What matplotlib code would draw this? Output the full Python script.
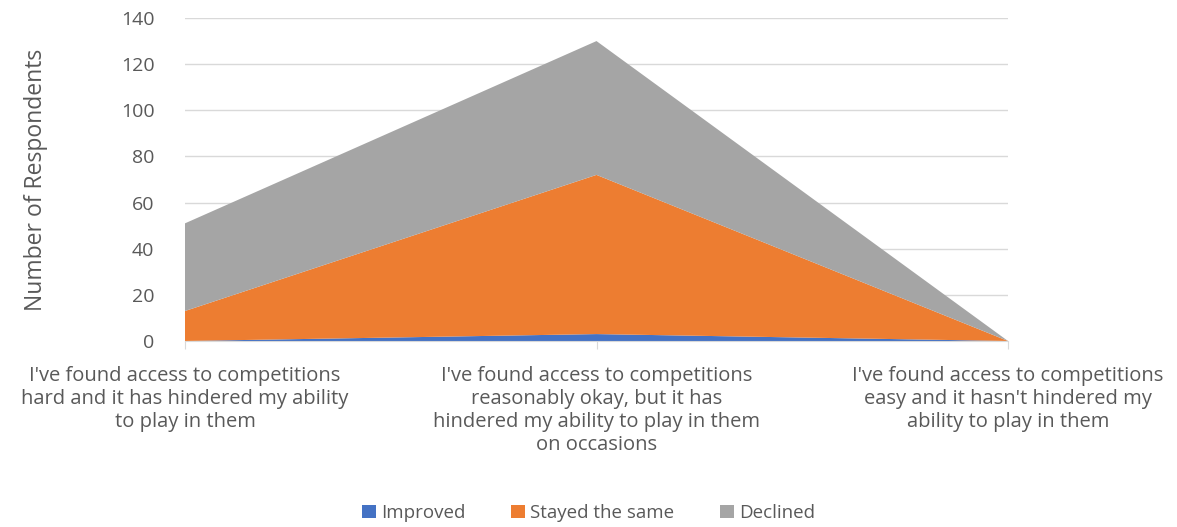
import numpy as np
import matplotlib.pyplot as plt

# survey data
categories = ["I've found access to competitions\nhard and it has hindered my ability\nto play in them",
              "I've found access to competitions\nreasonably okay, but it has\nhindered my ability to play in them\non occasions",
              "I've found access to competitions\neasy and it hasn't hindered my\nability to play in them"]
improved = [0, 3, 0]
stayed_same = [13, 69, 0]
declined = [38, 58, 0]

series_names = ["Improved", "Stayed the same", "Declined"]
colors = ["#4472C4", "#ED7D31", "#A5A5A5"]

plt.rcParams['font.family'] = ['Open Sans', 'DejaVu Sans']
txt = "#595959"

fig = plt.figure(figsize=(11.77, 5.27), dpi=100)
ax = fig.add_axes([185 / 1177, 1 - 341 / 527, (1008 - 185) / 1177, (341 - 18) / 527])

x = np.arange(len(categories))
ax.stackplot(x, improved, stayed_same, declined, colors=colors, labels=series_names, zorder=2)

ax.set_xlim(0, len(categories) - 1)
ax.set_ylim(0, 140)
ax.set_yticks(np.arange(0, 141, 20))
ax.grid(axis='y', color='#D9D9D9', linewidth=1, zorder=0)
ax.set_axisbelow(True)

ax.set_xticks(x)
ax.set_xticklabels(categories, fontsize=14.5, color=txt, linespacing=1.2)
ax.tick_params(axis='x', length=6, color='#D9D9D9', pad=12)
ax.tick_params(axis='y', length=0, labelsize=14, labelcolor=txt, pad=22)

for side in ['top', 'right', 'left']:
    ax.spines[side].set_visible(False)
ax.spines['bottom'].set_color('#D9D9D9')

ax.set_ylabel("Number of Respondents", fontsize=16.5, color=txt)
ax.yaxis.set_label_coords(48 / 1177, 1 - 180 / 527, transform=fig.transFigure)

fig.legend(loc='center', ncol=3, frameon=False, fontsize=13.5,
           bbox_to_anchor=(0.5, 1 - 513 / 527), handlelength=0.75, handleheight=0.75,
           handletextpad=0.3, columnspacing=2.4, labelcolor=txt)

fig.savefig("out.png", dpi=100)
